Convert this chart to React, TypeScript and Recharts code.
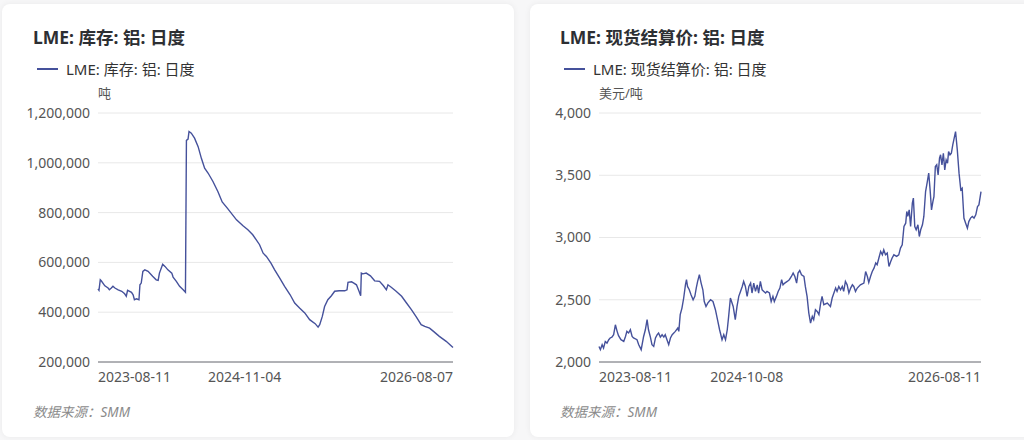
import React from 'react';
import { LineChart, Line, XAxis, YAxis, CartesianGrid } from 'recharts';

// LME aluminium stock, tonnes
const stockDates = [
  '2023-08-11', '2023-08-14', '2023-08-18', '2023-08-21', '2023-09-01', '2023-09-11', '2023-09-15', '2023-09-21',
  '2023-09-26', '2023-10-02', '2023-10-12', '2023-10-23', '2023-11-01', '2023-11-06', '2023-11-10', '2023-11-22',
  '2023-11-27', '2023-12-01', '2023-12-07', '2023-12-15', '2023-12-18', '2023-12-22', '2023-12-27', '2024-01-02',
  '2024-01-12', '2024-01-26', '2024-02-06', '2024-02-12', '2024-02-16', '2024-02-26', '2024-03-04', '2024-03-13',
  '2024-03-25', '2024-03-29', '2024-04-08', '2024-04-18', '2024-04-29', '2024-05-06', '2024-05-09', '2024-05-14',
  '2024-05-17', '2024-05-24', '2024-06-03', '2024-06-14', '2024-06-24', '2024-07-04', '2024-07-15', '2024-07-30',
  '2024-08-14', '2024-08-27', '2024-09-13', '2024-10-10', '2024-10-30', '2024-11-14', '2024-11-29', '2024-12-20',
  '2024-12-31', '2025-01-10', '2025-01-24', '2025-02-04', '2025-02-20', '2025-03-07', '2025-03-24', '2025-04-07',
  '2025-04-22', '2025-05-08', '2025-05-23', '2025-06-09', '2025-06-18', '2025-06-23', '2025-07-01', '2025-07-08',
  '2025-07-18', '2025-07-29', '2025-08-08', '2025-08-22', '2025-09-08', '2025-09-15', '2025-09-18', '2025-09-29',
  '2025-10-06', '2025-10-14', '2025-10-22', '2025-10-27', '2025-10-29', '2025-11-03', '2025-11-13', '2025-11-26',
  '2025-12-09', '2025-12-24', '2026-01-05', '2026-01-14', '2026-01-19', '2026-01-29', '2026-02-13', '2026-03-02',
  '2026-03-17', '2026-04-01', '2026-04-16', '2026-05-01', '2026-05-12', '2026-05-27', '2026-06-08', '2026-06-26',
  '2026-07-17', '2026-08-07',
];
const stockValues = [
  494000, 488000, 530000, 526000, 506000, 497000, 490000, 497000,
  504000, 497000, 490000, 484000, 474000, 464000, 488000, 480000,
  470000, 450000, 454000, 450000, 510000, 517000, 564000, 570000,
  564000, 544000, 530000, 528000, 557000, 593000, 584000, 570000,
  557000, 541000, 524000, 504000, 490000, 480000, 1090000, 1095000,
  1126000, 1119000, 1099000, 1065000, 1018000, 978000, 958000, 924000,
  884000, 843000, 816000, 771000, 747000, 731000, 711000, 671000,
  637000, 624000, 597000, 571000, 537000, 504000, 470000, 437000,
  417000, 397000, 370000, 354000, 340000, 350000, 383000, 423000,
  450000, 466000, 484000, 486000, 486000, 490000, 520000, 522000,
  517000, 510000, 484000, 466000, 557000, 554000, 557000, 546000,
  526000, 524000, 506000, 490000, 510000, 500000, 484000, 464000,
  437000, 410000, 381000, 350000, 343000, 336000, 323000, 303000,
  283000, 258000,
];
const stockTicks = ['2023-08-11', '2024-11-04', '2026-08-07'];
const stockYTicks = [200000, 400000, 600000, 800000, 1000000, 1200000];

// LME aluminium cash settlement price, USD/t
const priceDates = [
  '2023-08-11', '2023-08-15', '2023-08-20', '2023-08-24', '2023-08-29', '2023-09-03', '2023-09-08', '2023-09-12',
  '2023-09-17', '2023-09-22', '2023-09-27', '2023-10-02', '2023-10-06', '2023-10-13', '2023-10-21', '2023-10-26',
  '2023-10-30', '2023-11-04', '2023-11-09', '2023-11-14', '2023-11-18', '2023-11-28', '2023-12-03', '2023-12-10',
  '2023-12-17', '2023-12-22', '2023-12-27', '2023-12-31', '2024-01-05', '2024-01-10', '2024-01-15', '2024-01-20',
  '2024-01-25', '2024-01-29', '2024-02-03', '2024-02-08', '2024-02-13', '2024-02-17', '2024-02-22', '2024-02-27',
  '2024-03-03', '2024-03-08', '2024-03-17', '2024-03-24', '2024-03-27', '2024-03-31', '2024-04-05', '2024-04-10',
  '2024-04-15', '2024-04-18', '2024-04-21', '2024-04-26', '2024-05-01', '2024-05-07', '2024-05-12', '2024-05-16',
  '2024-05-20', '2024-05-25', '2024-05-30', '2024-06-04', '2024-06-08', '2024-06-13', '2024-06-18', '2024-06-26',
  '2024-07-03', '2024-07-10', '2024-07-17', '2024-07-22', '2024-07-29', '2024-08-03', '2024-08-08', '2024-08-13',
  '2024-08-17', '2024-08-22', '2024-08-30', '2024-09-05', '2024-09-10', '2024-09-15', '2024-09-20', '2024-09-25',
  '2024-09-29', '2024-10-04', '2024-10-09', '2024-10-14', '2024-10-19', '2024-10-23', '2024-10-28', '2024-11-02',
  '2024-11-07', '2024-11-11', '2024-11-16', '2024-11-21', '2024-11-26', '2024-12-01', '2024-12-05', '2024-12-12',
  '2024-12-17', '2024-12-22', '2024-12-26', '2025-01-01', '2025-01-06', '2025-01-11', '2025-01-16', '2025-01-20',
  '2025-01-25', '2025-02-01', '2025-02-07', '2025-02-13', '2025-02-18', '2025-02-23', '2025-02-28', '2025-03-04',
  '2025-03-09', '2025-03-14', '2025-03-21', '2025-03-25', '2025-03-30', '2025-04-04', '2025-04-09', '2025-04-14',
  '2025-04-18', '2025-04-23', '2025-04-28', '2025-05-03', '2025-05-08', '2025-05-12', '2025-05-17', '2025-05-27',
  '2025-06-05', '2025-06-10', '2025-06-15', '2025-06-20', '2025-06-24', '2025-06-29', '2025-07-04', '2025-07-09',
  '2025-07-13', '2025-07-18', '2025-07-23', '2025-07-28', '2025-08-02', '2025-08-07', '2025-08-11', '2025-08-16',
  '2025-08-21', '2025-08-30', '2025-09-09', '2025-09-14', '2025-09-19', '2025-09-23', '2025-09-28', '2025-10-03',
  '2025-10-08', '2025-10-13', '2025-10-17', '2025-10-22', '2025-10-27', '2025-11-01', '2025-11-05', '2025-11-10',
  '2025-11-15', '2025-11-20', '2025-11-25', '2025-11-29', '2025-12-04', '2025-12-12', '2025-12-18', '2025-12-23',
  '2025-12-28', '2026-01-02', '2026-01-07', '2026-01-10', '2026-01-13', '2026-01-17', '2026-01-21', '2026-01-26',
  '2026-01-29', '2026-02-02', '2026-02-06', '2026-02-11', '2026-02-15', '2026-02-19', '2026-02-24', '2026-02-28',
  '2026-03-05', '2026-03-10', '2026-03-14', '2026-03-18', '2026-03-22', '2026-03-26', '2026-03-29', '2026-04-02',
  '2026-04-06', '2026-04-10', '2026-04-14', '2026-04-17', '2026-04-21', '2026-04-25', '2026-04-29', '2026-05-03',
  '2026-05-07', '2026-05-10', '2026-05-14', '2026-05-18', '2026-05-22', '2026-05-25', '2026-05-30', '2026-06-04',
  '2026-06-09', '2026-06-14', '2026-06-18', '2026-06-23', '2026-06-28', '2026-07-03', '2026-07-07', '2026-07-12',
  '2026-07-17', '2026-07-22', '2026-07-27', '2026-08-01', '2026-08-05', '2026-08-11',
];
const priceValues = [
  2125, 2099, 2139, 2112, 2165, 2152, 2179, 2193,
  2200, 2219, 2299, 2246, 2211, 2179, 2165, 2205,
  2246, 2233, 2259, 2205, 2193, 2179, 2139, 2099,
  2205, 2259, 2340, 2259, 2205, 2139, 2125, 2193,
  2219, 2233, 2200, 2219, 2200, 2219, 2179, 2139,
  2193, 2219, 2246, 2273, 2246, 2380, 2433, 2514,
  2620, 2661, 2607, 2580, 2540, 2500, 2527, 2594,
  2647, 2701, 2634, 2580, 2486, 2446, 2473, 2500,
  2486, 2420, 2326, 2259, 2179, 2219, 2179, 2259,
  2366, 2514, 2446, 2340, 2446, 2527, 2567, 2607,
  2647, 2607, 2527, 2607, 2634, 2554, 2634, 2567,
  2620, 2554, 2647, 2580, 2567, 2554, 2567, 2554,
  2486, 2527, 2486, 2527, 2567, 2594, 2661, 2620,
  2634, 2647, 2661, 2687, 2714, 2687, 2634, 2714,
  2735, 2701, 2687, 2607, 2527, 2393, 2313, 2366,
  2340, 2420, 2406, 2380, 2473, 2527, 2460, 2473,
  2446, 2514, 2554, 2594, 2567, 2607, 2580, 2607,
  2567, 2647, 2620, 2554, 2594, 2620, 2607, 2567,
  2594, 2620, 2634, 2727, 2687, 2639, 2687, 2727,
  2754, 2795, 2781, 2835, 2888, 2861, 2901, 2861,
  2875, 2767, 2807, 2835, 2861, 2848, 2861, 2915,
  2941, 3088, 3115, 3209, 3169, 3222, 3088, 3276,
  3316, 3088, 3062, 3102, 3008, 3062, 3102, 3169,
  3369, 3449, 3517, 3383, 3222, 3289, 3329, 3570,
  3584, 3503, 3637, 3664, 3584, 3677, 3543, 3624,
  3597, 3691, 3664, 3677, 3744, 3784, 3851, 3704,
  3517, 3383, 3396, 3156, 3115, 3075, 3128, 3156,
  3169, 3156, 3182, 3249, 3262, 3369,
];
const priceTicks = ['2023-08-11', '2024-10-08', '2026-08-11'];
const priceYTicks = [2000, 2500, 3000, 3500, 4000];

const LINE_COLOR = '#45519b';
const FONT = '"Noto Sans", "Noto Sans CJK SC", sans-serif';

const toTime = (d: string) => Date.parse(d);
const fmtDate = (t: number) => new Date(t).toISOString().slice(0, 10);
const fmtNum = (v: number) => v.toLocaleString('en-US');

const DateTick = (props: any) => {
  const { x, y, payload, index, visibleTicksCount } = props;
  const anchor = index === 0 ? 'start' : index === visibleTicksCount - 1 ? 'end' : 'middle';
  return (
    <text x={x} y={y} dy="0.71em" textAnchor={anchor} fill="#555" fontSize={14} fontFamily={FONT}>
      {fmtDate(payload.value)}
    </text>
  );
};

type CardProps = {
  left: number;
  title: string;
  unit: string;
  dates: string[];
  values: number[];
  xTicks: string[];
  yTicks: number[];
  yAxisWidth: number;
};

const ChartCard = ({ left, title, unit, dates, values, xTicks, yTicks, yAxisWidth }: CardProps) => {
  const data = dates.map((d, i) => ({ t: toTime(d), v: values[i] }));
  const padX = left === 0 ? 31 : 30;
  return (
    <div
      style={{
        position: 'absolute',
        left: 2 + left,
        top: 4,
        width: 512,
        height: 433,
        background: '#fff',
        borderRadius: 8,
        boxShadow: '0 0 6px rgba(0,0,0,0.06)',
        fontFamily: FONT,
      }}
    >
      <div style={{ position: 'absolute', left: padX, top: 20, fontSize: 17.5, fontWeight: 700, color: '#2d2f33', whiteSpace: 'nowrap' }}>
        {title}
      </div>
      <div style={{ position: 'absolute', left: padX + 4, top: 54, display: 'flex', alignItems: 'center', whiteSpace: 'nowrap' }}>
        <span style={{ display: 'inline-block', width: 21, height: 2, background: LINE_COLOR, marginRight: 8 }} />
        <span style={{ fontSize: 15, color: '#333' }}>{title}</span>
      </div>
      <div style={{ position: 'absolute', left: yAxisWidth, top: 79, fontSize: 13, color: '#555', whiteSpace: 'nowrap' }}>
        {unit}
      </div>
      <div style={{ position: 'absolute', left: padX, top: 397, fontSize: 13.5, color: '#8a8a8a', fontStyle: 'italic', whiteSpace: 'nowrap' }}>
        数据来源：SMM
      </div>
      <div style={{ position: 'absolute', left: 0, top: 0 }}>
        <LineChart width={512} height={433} data={data} margin={{ top: 109, right: 512 - 451, bottom: 45, left: 0 }}>
          <CartesianGrid vertical={false} stroke="#e8e8e8" />
          <XAxis
            dataKey="t"
            type="number"
            domain={[toTime(dates[0]), toTime(dates[dates.length - 1])]}
            ticks={xTicks.map(toTime)}
            tick={<DateTick />}
            tickLine={false}
            tickSize={0}
            tickMargin={10}
            height={30}
            stroke="#6e7079"
            interval={0}
          />
          <YAxis
            width={yAxisWidth}
            domain={[yTicks[0], yTicks[yTicks.length - 1]]}
            ticks={yTicks}
            tickFormatter={fmtNum}
            axisLine={false}
            tickLine={false}
            tickSize={0}
            tickMargin={8}
            tick={{ fill: '#555', fontSize: 14, fontFamily: FONT }}
          />
          <Line type="linear" dataKey="v" stroke={LINE_COLOR} strokeWidth={1.4} dot={false} isAnimationActive={false} />
        </LineChart>
      </div>
    </div>
  );
};

export default function App() {
  return (
    <div style={{ position: 'fixed', left: 0, top: 0, width: 1024, height: 440, background: '#f7f7f8', overflow: 'hidden' }}>
      <ChartCard
        left={0}
        title="LME: 库存: 铝: 日度"
        unit="吨"
        dates={stockDates}
        values={stockValues}
        xTicks={stockTicks}
        yTicks={stockYTicks}
        yAxisWidth={96}
      />
      <ChartCard
        left={528}
        title="LME: 现货结算价: 铝: 日度"
        unit="美元/吨"
        dates={priceDates}
        values={priceValues}
        xTicks={priceTicks}
        yTicks={priceYTicks}
        yAxisWidth={69}
      />
    </div>
  );
}
